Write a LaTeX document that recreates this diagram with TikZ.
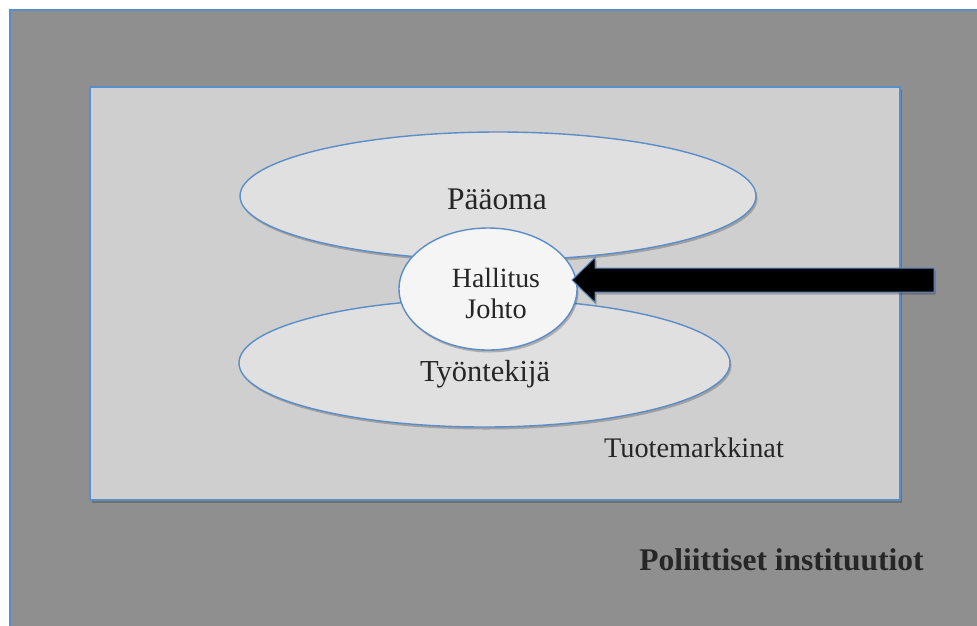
\documentclass[tikz,border=0pt]{standalone}
\usepackage{fontspec}
\setmainfont{Liberation Serif}
\usetikzlibrary{shapes.geometric,shadows}
\definecolor{outergray}{HTML}{8F8F8F}
\definecolor{innergray}{HTML}{CFCFCF}
\definecolor{ellgray}{HTML}{E0E0E0}
\definecolor{hallfill}{HTML}{F5F5F5}
\definecolor{edgeblue}{HTML}{5B8DC8}
\definecolor{txtcol}{HTML}{262626}
\tikzset{
  softshadow/.style={drop shadow={shadow xshift=1.5pt, shadow yshift=-2.5pt, opacity=0.22, fill=black}},
  boxstyle/.style={draw=edgeblue, line width=1.4pt},
  ellbox/.style={ellipse, draw=edgeblue, line width=1.4pt, fill=ellgray, inner sep=0pt, softshadow},
  hallbox/.style={ellipse, draw=edgeblue, line width=1.4pt, fill=hallfill, inner sep=0pt, softshadow},
  arrowbox/.style={draw=edgeblue, line width=1pt, fill=black, line join=miter, softshadow},
  lbl/.style={anchor=base, inner sep=0pt, text=txtcol},
}
\begin{document}
\begin{tikzpicture}[x=1pt,y=-1pt]
\useasboundingbox (0,0) rectangle (977,625);
\clip (0,0) rectangle (977,625);
\fill[white] (0,0) rectangle (977,625);
% outer box
\draw[boxstyle, fill=outergray] (10,10) rectangle (995,645);
% inner box
\draw[boxstyle, fill=innergray, softshadow] (90,87) rectangle (900,500);
% ellipses
\node[ellbox, minimum width=516pt, minimum height=128pt] (paaoma) at (498,196) {};
\node[ellbox, minimum width=491pt, minimum height=128pt] (tyontekija) at (484.5,363) {};
\node[hallbox, minimum width=178pt, minimum height=122pt] (hallitus) at (488,289) {};
% labels
\node[lbl, font=\fontsize{31.5}{32}\selectfont] (tpaaoma) at (497,209) {Pääoma};
\node[lbl, font=\fontsize{30.5}{31}\selectfont] (ttyo) at (485,381) {Työntekijä};
\node[lbl, font=\fontsize{27.8}{28}\selectfont] (thall) at (496,287) {Hallitus};
\node[lbl, font=\fontsize{28.3}{28}\selectfont] (tjohto) at (496,318) {Johto};
\node[lbl, font=\fontsize{28.3}{28}\selectfont] (ttuote) at (694,457) {Tuotemarkkinat};
\node[lbl, font=\bfseries\fontsize{31.5}{32}\selectfont] (tpol) at (781.5,570) {Poliittiset instituutiot};
% block arrow pointing at Hallitus
\coordinate (tip) at (572,280);
\coordinate (tail) at (934,280);
\draw[arrowbox] (tip) -- ++(23,-22.5) -- ++(0,10.5) -- ([yshift=12pt]tail) -- ([yshift=-12pt]tail) -- ++(-339,0) -- ++(0,10.5) -- cycle;
\end{tikzpicture}
\end{document}
